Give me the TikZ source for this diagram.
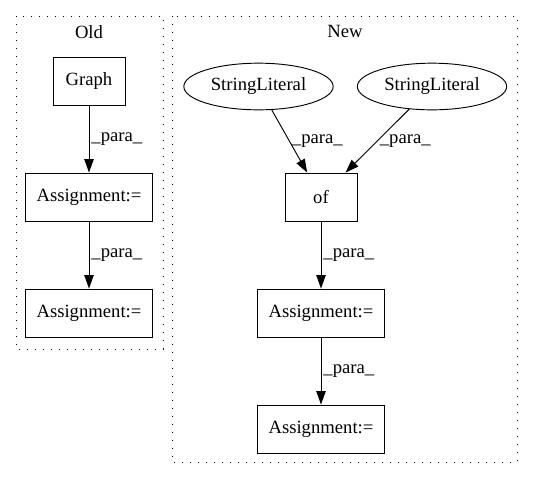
\documentclass[tikz,border=0pt]{standalone}
\usepackage{fontspec}
\setmainfont{Liberation Serif}
\usetikzlibrary{arrows.meta}
\usetikzlibrary{shapes.geometric}

\begin{document}
\begin{tikzpicture}[x=0.75pt, y=-0.75pt, font=\fontsize{14pt}{16pt}\selectfont,
  box/.style={draw, line width=0.7pt, rectangle, minimum width=54pt, minimum height=36pt, inner xsep=8pt},
  lit/.style={draw, line width=0.7pt, ellipse, minimum width=112pt, minimum height=35pt, inner sep=1pt},
  flow/.style={-{Triangle[length=10pt,width=7pt]}, line width=0.7pt},
  lbl/.style={right, inner sep=1.5pt},
  cluster/.style={dash pattern=on 1pt off 5pt, line width=0.7pt}]

\useasboundingbox (0,0) rectangle (533,480);

% old version
\begin{scope}
{
\draw[cluster] (16,16) rectangle (163,349);
\node (oldtitle) at (89,32) {Old};

\node[box] (graph) at (89,81) {Graph};
\node[box] (oldasgA) at (89,197) {Assignment:=};
\node[box] (oldasgB) at (89,313) {Assignment:=};

\draw[flow] (graph) -- node[lbl] {\_para\_} (oldasgA);
\draw[flow] (oldasgA) -- node[lbl] {\_para\_} (oldasgB);
}
\end{scope}

% new version
\begin{scope}
{
\draw[cluster] (172,16) rectangle (517,462);
\node (newtitle) at (345,31) {New};

\node[lit] (strA) at (258.5,86.5) {StringLiteral};
\node[lit] (strB) at (432,86.5) {StringLiteral};
\node[box] (of) at (321,197) {of};
\node[box] (newasgA) at (321,313) {Assignment:=};
\node[box] (newasgB) at (321,429) {Assignment:=};

\draw[flow] (strA) -- node[lbl] {\_para\_} (of);
\draw[flow] (strB) -- node[lbl] {\_para\_} (of);
\draw[flow] (of) -- node[lbl] {\_para\_} (newasgA);
\draw[flow] (newasgA) -- node[lbl] {\_para\_} (newasgB);
}
\end{scope}

\end{tikzpicture}
\end{document}
